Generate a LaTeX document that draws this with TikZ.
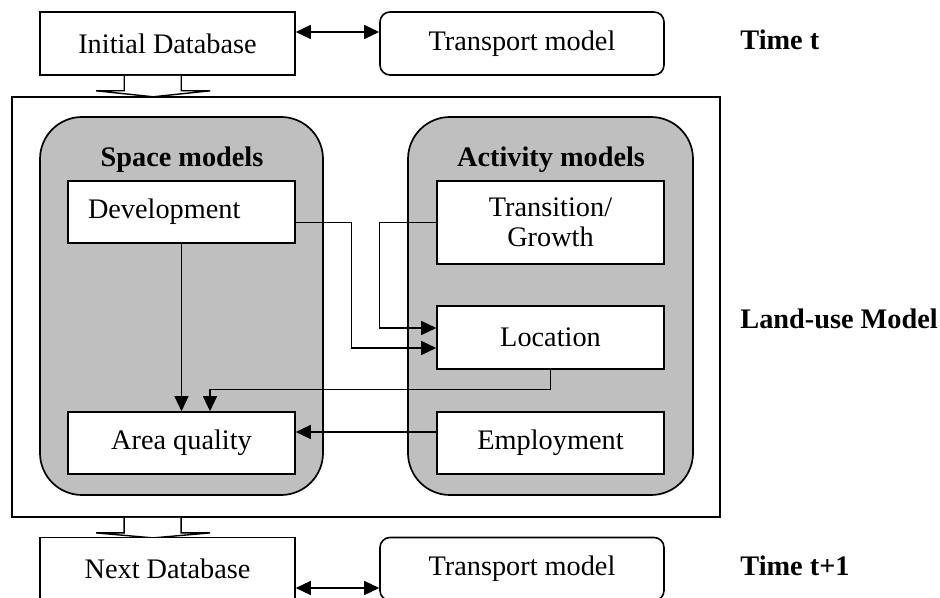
\documentclass[tikz,border=0pt]{standalone}
\usepackage{fontspec}
\setmainfont{Liberation Serif}
\usetikzlibrary{positioning,arrows.meta,calc}

\begin{document}
\begin{tikzpicture}[
  x=0.5pt, y=-0.5pt,
  font=\fontsize{14.15pt}{15pt}\selectfont,
  >={Triangle[length=7.5pt, width=7pt]},
  dbbox/.style={draw=black, line width=0.8pt, fill=white, minimum width=127.5pt, minimum height=31.5pt, inner sep=0pt},
  modelbox/.style={dbbox, rounded corners=5pt, minimum width=142pt},
  group/.style={draw=black, line width=0.85pt, fill=black!25, rounded corners=21pt, minimum height=189pt, inner sep=0pt},
  sub/.style={draw=black, line width=0.8pt, fill=white, minimum width=113.5pt, minimum height=31pt, inner sep=0pt, align=center},
  ttl/.style={font=\fontsize{14.15pt}{15pt}\selectfont\bfseries, inner sep=0pt},
  conn/.style={->, line width=0.7pt},
  dbl/.style={<->, line width=0.7pt},
  fatarrow/.style={draw=black, line width=0.7pt, fill=white},
]
\clip (0,0) rectangle (940,598);

% ---- time t: databases and transport model ----
\node[dbbox] (initdb) at (167.5,43.5) {Initial Database};
\node[modelbox] (transtop) at (522,43.5) {Transport model};
\node[ttl, anchor=west] (timet) at (740,40) {Time t};
\draw[dbl] ($(initdb.east)+(0,-11.5)$) -- ($(transtop.west)+(0,-11.5)$);

% ---- land-use model frame with the two groups ----
\node[draw=black, line width=0.9pt, fill=white, minimum width=354pt, minimum height=210pt, inner sep=0pt] (landuse) at (366,307) {};
\node[ttl, anchor=west] (landlbl) at (740,319) {Land-use Model};

\node[group, minimum width=141.5pt] (space) at (181.5,306) {};
\node[group, minimum width=142.5pt] (activity) at (550.5,306) {};
\node[ttl, anchor=base] (spacettl) at (182,167) {Space models};
\node[ttl, anchor=base] (actttl) at (551,167) {Activity models};

% space models
\node[sub, text width=93.5pt, inner xsep=10pt, align=left] (dev) at (181.5,212) {Development};
\node[sub] (aq) at (181.5,443) {Area quality};
% activity models
\node[sub, minimum height=41.5pt] (trans) at (550.5,222.5) {Transition/\\Growth};
\node[sub, minimum height=31.5pt] (loc) at (550.5,337.5) {Location};
\node[sub] (emp) at (550.5,443) {Employment};

% ---- links between the sub-models ----
\draw[conn] ($(dev.east)+(0,10.5)$) -| ($(loc.west)+(-85,10.5)$) -- ($(loc.west)+(0,10.5)$);
\draw[conn] (trans.west) -| ($(loc.west)+(-57,-9.5)$) -- ($(loc.west)+(0,-9.5)$);
\draw[conn] (dev.south) -- (aq.north);
\draw[conn] (loc.south) |- ($(aq.north)+(28.5,-22)$) -- ($(aq.north)+(28.5,0)$);
\draw[conn] ($(emp.west)+(0,-11)$) -- ($(aq.east)+(0,-11)$);

% ---- block arrows in and out of the frame ----
\draw[fatarrow] ($(initdb.south west)+(85,0)$) -- ++(0,15) -- ++(-28,0) -- ++(57,6) -- ++(57,-6) -- ++(-29,0) -- ++(0,-15);
\draw[fatarrow] ($(landuse.south west)+(113,0)$) -- ++(0,15) -- ++(-28,0) -- ++(57,5) -- ++(57,-5) -- ++(-29,0) -- ++(0,-15);

% ---- time t+1 ----
\node[dbbox] (nextdb) at (167.5,569) {Next Database};
\node[modelbox] (transbot) at (522,569) {Transport model};
\node[ttl, anchor=west] (timet1) at (740,566) {Time t+1};
\draw[dbl] ($(nextdb.east)+(0,19)$) -- ($(transbot.west)+(0,19)$);
\end{tikzpicture}
\end{document}
